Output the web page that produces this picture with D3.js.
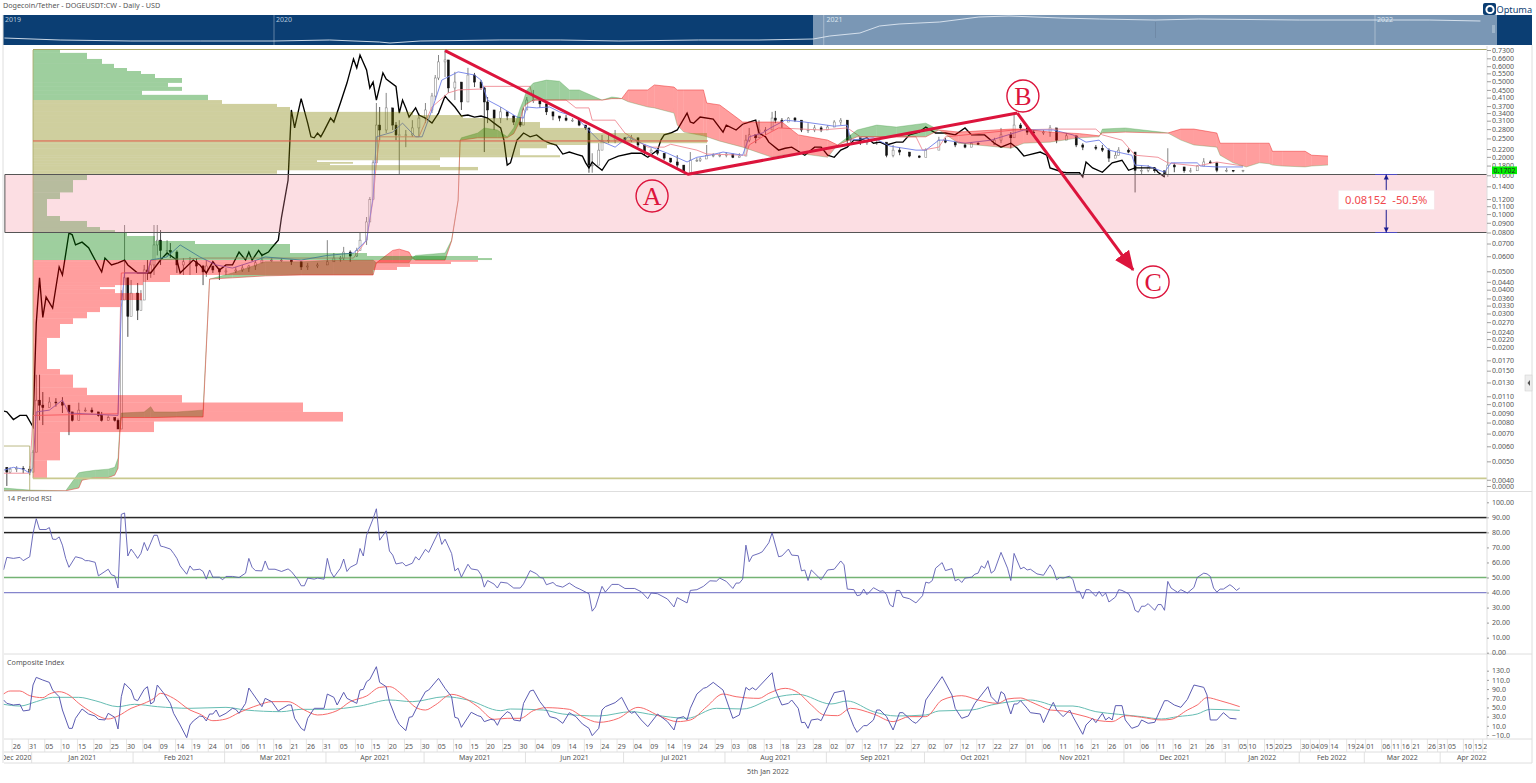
<!DOCTYPE html>
<html><head><meta charset="utf-8">
<script src="https://cdnjs.cloudflare.com/ajax/libs/d3/7.8.5/d3.min.js"></script>
<style>
html,body{margin:0;padding:0;background:#fff;overflow:hidden}
text{font-family:"Noto Sans",sans-serif;fill:#555}
.ax text{font-size:7px;fill:#555}
</style></head><body><svg id="c" width="1536" height="783"></svg>
<script>
// ---------- DATA (days are counted from 31 Dec 2020) ----------
const candleDays=[-8,-7,-5,-3,-1,0,1,2,3,5,7,9,11,12,14,16,18,20,21,23,25,26,27,28,29,30,32,33,34,35,36,37,38,39,41,42,44,46,48,50,
52,53,55,57,59,62,64,66,68,70,73,76,79,82,84,87,90,92,94,95,97,99,100,102,103,104,105,106,108,110,111,112,114,116,118,120,122,123,124,126,
127,129,131,133,135,137,138,139,141,143,145,147,149,150,151,153,155,157,159,161,163,165,167,169,170,171,173,174,176,178,181,183,185,187,189,191,193,195,197,199,
201,203,204,206,208,210,212,214,216,218,219,221,222,224,226,227,229,231,233,235,237,239,241,243,245,247,249,250,253,255,258,261,263,265,268,271,273,
277,279,282,285,287,289,294,296,299,300,302,304,306,309,311,313,316,319,321,325,327,329,331,332,335,337,339,341,343,346,347,349,352,354,356,358,360,362,365,367,370];
const candleHigh=[.00465,.00465,.00472,.00472,.00472,.00573,.01428,.01428,.01158,.01088,.01075,.01088,.0097,.00898,.01018,.0096,.0096,.0091,.0091,.00872,.0085,.0084,.0398,.0876,.045,.045,.0434,.0398,.054,.0573,.0573,.0876,.0876,.0824,.0729,.0704,.0644,.0587,.0595,.0587,
.054,.0573,.052,.052,.052,.0527,.054,.054,.0573,.0624,.0587,.0587,.0573,.054,.0554,.0554,.0729,.0624,.0602,.0672,.0644,.0665,.0795,.0965,.123,.192,.384,.366,.434,.34,.305,.312,.277,.312,.34,.384,.434,.539,.687,.73,
.632,.56,.489,.588,.553,.507,.466,.413,.34,.366,.345,.332,.324,.362,.413,.45,.398,.375,.345,.328,.332,.32,.308,.294,.277,.209,.236,.261,.261,.277,.252,.261,.239,.225,.222,.222,.204,.197,.204,.181,
.212,.197,.199,.231,.209,.209,.212,.204,.209,.261,.284,.261,.312,.287,.345,.349,.32,.324,.324,.301,.301,.294,.29,.294,.312,.32,.312,.261,.252,.245,.245,.231,.231,.225,.209,.204,.222,
.255,.252,.239,.236,.239,.239,.252,.284,.27,.332,.301,.284,.277,.277,.294,.277,.267,.245,.236,.231,.231,.222,.212,.225,.222,.199,.181,.181,.175,.166,.222,.186,.175,.175,.181,.197,.192,.186,.175,.17,.17];
const candleLow=[.00371,.00433,.00439,.00433,.00423,.00439,.00573,.00822,.00776,.0096,.0097,.00898,.00687,.0081,.00872,.0091,.00898,.0086,.0081,.00822,.0081,.0074,.0075,.0353,.0226,.0312,.0277,.0312,.0362,.045,.0462,.0478,.0606,.054,.0595,.0587,.049,.0478,.0478,.049,
.0423,.0467,.049,.045,.0478,.049,.0496,.0496,.0508,.0554,.0561,.0561,.054,.0508,.0508,.052,.054,.0561,.0561,.0573,.0561,.0595,.0644,.0688,.0932,.119,.192,.245,.267,.277,.245,.161,.225,.255,.255,.301,.34,.398,.507,.526,
.434,.398,.353,.45,.466,.45,.212,.301,.277,.301,.312,.294,.287,.294,.353,.384,.362,.332,.312,.308,.308,.305,.29,.277,.165,.165,.186,.231,.236,.236,.236,.239,.225,.204,.209,.204,.192,.186,.175,.165,
.166,.188,.188,.197,.199,.199,.199,.197,.199,.204,.239,.236,.255,.261,.287,.301,.284,.305,.305,.27,.267,.27,.27,.277,.294,.294,.236,.239,.231,.231,.231,.199,.199,.204,.199,.197,.204,
.231,.236,.225,.222,.225,.231,.231,.236,.222,.255,.277,.261,.255,.261,.255,.236,.252,.225,.217,.217,.212,.188,.197,.204,.209,.13,.161,.166,.165,.156,.157,.166,.165,.165,.17,.181,.184,.166,.166,.166,.166];
const candleClose=[.00439,.00455,.0046,.00455,.00439,.00559,.01049,.00988,.0096,.01025,.01018,.00988,.0091,.00822,.0093,.0093,.0091,.00872,.00822,.0085,.00822,.0074,.0353,.0462,.029,.0384,.0312,.0353,.0508,.0496,.054,.0688,.0729,.0644,.0644,.0631,.054,.0561,.0561,.0533,
.0496,.0533,.0508,.0496,.0502,.0508,.052,.0533,.0554,.0573,.0573,.0573,.0561,.0527,.0533,.054,.0561,.0587,.0587,.0631,.0602,.0644,.0729,.0909,.119,.186,.294,.277,.362,.294,.261,.261,.261,.284,.32,.353,.418,.52,.632,.647,
.461,.495,.389,.539,.495,.461,.389,.353,.32,.345,.328,.305,.294,.353,.398,.398,.38,.345,.328,.32,.312,.312,.294,.284,.181,.181,.217,.245,.245,.252,.245,.252,.231,.212,.217,.209,.197,.188,.181,.166,
.192,.192,.195,.204,.204,.204,.207,.199,.202,.245,.261,.252,.277,.277,.32,.312,.305,.32,.312,.277,.277,.284,.277,.287,.305,.312,.245,.252,.239,.239,.239,.204,.217,.212,.202,.199,.217,
.245,.239,.231,.225,.236,.233,.245,.261,.252,.294,.284,.27,.267,.27,.284,.245,.258,.231,.225,.222,.217,.197,.204,.217,.212,.17,.17,.175,.169,.161,.181,.177,.169,.169,.179,.188,.186,.17,.17,.169,.1702];

const chikouDays=[-9,-8,-6,-4,-2,0,1,2,3,4,6,8,9,11,12,13,15,17,19,21,22,24,26,28,29,32,36,39,41,44,45,49,51,53,55,57,59,61,63,65,66,67,69,70,72,73,75,76,78,79,
80,82,84,85,86,87,88,89,91,92,94,96,98,99,100,102,103,104,105,107,108,111,112,113,114,115,117,118,120,122,124,126,127,129,131,133,135,137,139,141,143,144,145,146,148,
149,150,152,154,156,158,160,162,164,166,168,169,170,171,172,174,176,179,183,186,188,191,192,193,195,197,200,201,202,204,208,211,212,215,217,219,221,222,224,225,228,230,232,236,239,241,243,245,247,249,251,253,255,257,259,261,264,266,268,271,273,276,
279,282,285,287,291,294,296,299,301,303,308,310,311,315,316,320,321,322,324,327,330,333,335,337,343,344,346];
const chikouPrice=[.0092,.0091,.0083,.00872,.00872,.0076,.0267,.0462,.0286,.0366,.032,.0527,.0478,.0795,.0778,.0688,.0712,.0665,.0573,.0496,.0587,.054,.0554,.0573,.054,.049,.049,.0573,.0624,.0573,.049,.0573,.054,.049,.0561,.0508,.054,.054,.0631,.0573,.0631,.0573,.0644,.0606,.0631,.0665,.0729,.0965,.151,.353,
.284,.405,.301,.255,.252,.267,.255,.274,.32,.305,.384,.489,.655,.588,.687,.573,.461,.495,.398,.553,.514,.47,.34,.398,.362,.324,.362,.332,.32,.301,.34,.418,.398,.366,.328,.332,.324,.328,.32,.301,.284,.245,.181,.186,.245,
.255,.267,.255,.261,.245,.236,.231,.207,.212,.207,.202,.186,.175,.188,.181,.17,.192,.202,.209,.209,.199,.217,.245,.261,.267,.277,.34,.305,.301,.324,.316,.27,.294,.277,.297,.305,.312,.267,.255,.239,.217,.222,.225,.204,.225,.225,.204,.199,.217,.225,.245,.245,.252,.236,.239,.231,.239,.239,.261,.27,.287,.267,
.267,.261,.284,.261,.261,.236,.225,.236,.222,.202,.212,.204,.175,.166,.165,.165,.157,.188,.175,.166,.186,.192,.17,.175,.175,.166,.157];

const kijunDays=[-9,-1,0,26,27,35,36,53,98,102,104,105,106,118,122,127,130,137,138,152,153,163,166,170,171,178,181,188,193,195,203,206,218,219,224,228,241,249,253,270,272,277,279,285,300,312,325,327,333,337,344,347,356,362,370];
const kijunPrice=[.00433,.00433,.00872,.0089,.049,.049,.0573,.0587,.0587,.0729,.119,.186,.255,.255,.366,.434,.45,.455,.47,.47,.398,.398,.362,.362,.312,.312,.267,.225,.225,.233,.217,.207,.204,.231,.261,.284,.277,.284,.255,.255,.217,.225,.255,.261,.277,.28,.28,.261,.245,.204,.199,.186,.179,.188,.179];

const tenkanDays=[-9,-6,-3,-1,0,1,5,9,11,26,27,28,35,36,41,45,51,56,61,67,71,82,90,98,100,102,104,105,110,113,117,119,122,125,130,135,137,139,143,148,150,151,154,158,161,166,169,173,178,182,186,190,194,200,203,207,211,217,219,223,226,230,236,245,249,250,257,262,270,273,277,279,285,293,300,303,312,318,322,326,329,336,337,341,346,348,356,357,362,370];
const tenkanPrice=[.00449,.00465,.00455,.00433,.00465,.0091,.0093,.0105,.00898,.00872,.0324,.049,.049,.0573,.0595,.0688,.0595,.054,.052,.0561,.0595,.0573,.0606,.0624,.0672,.0729,.123,.255,.27,.301,.255,.255,.353,.507,.56,.539,.507,.398,.366,.324,.32,.366,.362,.366,.345,.324,.287,.245,.225,.255,.236,.222,.209,.188,.199,.204,.212,.204,.255,.267,.287,.312,.305,.29,.294,.245,.252,.228,.217,.217,.245,.245,.236,.245,.267,.277,.277,.261,.239,.245,.217,.204,.181,.179,.166,.186,.186,.179,.177,.177];

const cloudDays=[-9,-1,10,14,15,19,23,25,26,26.5,27,34,36,37,44,52,54,61,71,82,92,104,105,110,112,115,116,117,126,128,130,130.6,131,136,138,142,145,147,148,149,150,151,153,157,161,164,167,174,177,179,
180,182,188,190,196,197,199,205,206,210,217,226,229,234,243,246,252,258,264,273,277,283,299,303,311,320,326,327,334,345,347,351,355,362,363,367,371,375,378,379,382,389,391,396];
const spanA=[.00362,.00353,.0035,.00435,.00439,.00449,.00455,.00465,.0052,.0073,.00898,.0091,.0097,.0091,.0091,.0093,.0455,.049,.0561,.0561,.0573,.0573,.0554,.0554,.0554,.0554,.0587,.0606,.0624,.073,.119,.245,.252,.267,.284,.277,.255,.284,.32,.362,.398,.45,.489,.507,.5,.45,.45,.398,.413,.409,
.405,.39,.366,.362,.34,.294,.27,.258,.255,.242,.225,.199,.204,.209,.199,.231,.277,.294,.287,.301,.277,.236,.222,.236,.239,.252,.255,.28,.284,.27,.267,.245,.231,.225,.204,.186,.177,.186,.184,.181,.179,.177,.179,.181];
const spanB=[.00349,.00349,.0035,.00362,.00398,.00411,.00411,.00423,.0046,.0068,.0085,.0085,.0085,.0085,.00856,.00856,.0455,.0462,.0473,.0478,.0478,.0478,.0554,.0644,.0654,.0631,.0587,.0573,.0573,.0722,.118,.243,.245,.252,.252,.252,.252,.265,.287,.312,.366,.38,.398,.398,.398,.398,.398,.398,.405,.405,
.405,.45,.45,.478,.466,.45,.45,.45,.384,.375,.305,.305,.305,.261,.245,.231,.255,.255,.255,.255,.277,.27,.28,.28,.27,.265,.258,.267,.27,.267,.267,.28,.28,.267,.236,.236,.236,.236,.236,.214,.214,.214,.204,.202];

const profileEdges=[.73,.705,.655,.617,.587,.566,.546,.52,.49,.467,.445,.424,.398,.38,.366,.345,.332,.32,.305,.284,.267,.236,.231,.222,.204,.199,.192,.188,.184,.181,.177,.17,.163,.161,
.151,.13,.12,.0977,.092,.0855,.0824,.0805,.0767,.0722,.0696,.0624,.0602,.0587,.0573,.0561,.0546,.0527,.0508,.0478,.0439,.0423,.0413,.0403,.0384,.0353,.0324,.0305,.0283,.0264,.0223,.0153,.0143,.0122,.01116,.0102,.0091,.0081,.00713,.00506,.00408];
const profileVolume=[27,54,69,81,94,108,122,149,135,149,109,175,189,244,257,380,430,487,507,554,674,554,514,487,527,407,284,320,297,407,445,244,177,
54,40,27,14,27,54,67,82,94,122,162,257,334,445,459,445,418,377,364,340,137,110,82,67,82,109,87,67,54,40,27,14,27,40,54,149,270,310,121,27,14];
const profileZoneEnds=[12,33,48,74]; // bins per colour block: green, olive, green, red

const rsiDays=[-9,-8,-6,-4,-3,-1,0,1,2,4,5,6,7,8,9,10,11,13,15,16,17,19,20,22,23,24,25,26,27,28,29,30,31,32,33,34,35,37,38,39,40,42,43,44,45,47,48,49,51,52,53,54,55,57,58,59,61,63,65,66,67,68,70,71,72,74,76,78,79,81,82,83,84,86,87,89,90,91,92,94,95,96,97,99,100,101,102,104,105,106,108,109,110,111,113,114,116,117,118,120,121,124,125,126,128,129,130,131,133,134,136,137,138,139,141,142,143,145,147,
149,150,152,154,155,156,157,159,160,162,164,166,167,170,171,172,174,175,177,179,181,184,186,188,189,191,194,196,197,200,201,203,205,207,209,210,212,214,215,216,217,218,219,220,222,223,225,226,228,229,231,232,234,235,236,237,238,241,243,245,247,248,249,251,252,253,254,255,257,259,260,261,262,263,264,265,266,268,270,272,273,274,275,276,278,279,281,282,283,284,285,287,288,289,290,291,292,293,294,296,298,299,300,302,303,304,305,
307,309,311,312,313,314,315,317,318,319,320,321,322,323,325,326,327,328,329,331,332,333,335,336,337,338,339,340,341,343,344,345,346,347,348,350,351,353,355,356,358,359,360,361,362,363,364,366,367,368,369];
const rsiValues=[55.1,63.4,62.7,63.4,61.2,63.8,79.2,89.1,81.9,81.9,83.2,75.5,75.3,77,71.5,62.7,56.8,63.8,62.7,61.2,61.2,60.1,51.1,54,55.5,51.8,51.1,43,92,92.9,64.3,68.9,66,62.7,66,73.3,67.8,78.1,78.1,70.9,70.4,68.9,66,62.7,57.7,52.2,57.7,55,55.5,54,48.9,55,50.2,50.2,48.5,50.7,50.7,50,52.9,62.7,56.8,54.6,54.4,61,55.5,55.5,54,55.7,54,48.5,44.5,44.5,49.6,48.9,49.6,48.9,62.7,54,50.2,56.2,62.3,54,56.8,59,69.3,64.3,78.1,89.1,95.7,74.8,81,67.6,64.9,59,59.9,57.7,59.5,63.8,61.6,68.7,66.7,80.3,72,75.5,66,54.4,56.2,50.2,58.8,55.7,55,51.8,43.6,48,45.6,43,46.9,46.3,43,
43,45.8,54.6,52.4,50,49.6,45.2,46.7,44.7,43.6,46.3,43.4,42.5,39.2,27.6,30.4,44.1,40.3,45.4,45.4,42.7,42.7,40.5,35.9,39.7,39.2,35.7,30.4,36.6,33.1,41.4,41.9,44.1,47.8,47.6,49.6,47.4,42.7,46.3,46.3,48.9,71.5,60.5,64.5,66,67.1,73.1,79.7,63.8,64.3,68.9,64.9,64.5,54.4,55,48,55,48.5,55,55.5,61,58.4,42.3,41.9,37.9,38.4,42.3,38.6,43.2,40.8,41.2,38.6,32,30.4,41.4,41.4,37,35.9,33.1,37.9,46.9,46.3,48,56.2,59.9,54.6,55.9,47.8,48.9,46.7,49.6,50.2,52.2,52.9,57.7,56.2,61.2,52.9,54.6,66.7,56.2,48,66,55.7,56.8,55,55.5,
52.4,51.5,58.4,55,48.5,50,49.6,50.9,48.5,40.8,40.8,35.9,41.9,41.9,37.5,40.8,37.5,39.7,33.7,37,41.9,41.4,39.2,35.3,28.2,26.9,30.9,30.9,32.6,28.2,32,32,28.2,47.4,43,40.1,41.9,39.7,43.4,50,52.9,52.4,50.7,43,40.3,42.3,42.3,45.2,43.6,41.4,43];

const compDays=[-9,-8,-6,-4,-3,-1,0,1,3,5,6,8,9,11,12,13,15,17,19,20,22,23,25,26,27,28,30,31,32,34,35,36,37,38,40,42,43,45,47,48,49,51,52,53,54,55,56,57,59,61,62,63,65,66,67,70,71,73,75,78,79,80,82,83,84,86,89,90,92,93,95,96,97,99,100,101,102,103,105,106,108,109,111,112,114,115,116,118,120,121,124,126,128,129,130,131,134,136,137,138,140,141,142,143,145,146,147,149,
150,152,153,155,157,158,160,162,164,166,168,170,171,173,174,175,178,180,182,183,184,186,188,191,194,196,197,199,200,201,203,205,206,208,211,214,216,218,219,220,221,226,227,229,231,232,234,235,236,237,238,240,241,243,245,248,249,251,252,254,255,257,258,259,261,263,265,266,269,270,272,273,278,281,282,284,286,288,292,293,295,296,297,299,300,301,302,304,
305,308,309,311,312,313,315,317,318,321,322,324,325,327,328,329,330,331,333,334,336,338,339,341,343,344,346,347,349,351,353,355,358,359,360,362,364,366,368,369];
const compValues=[66.2,58.9,55.3,56.8,42.3,44.4,98.8,115.5,109.7,104.6,87.9,73.4,44.4,4.5,4.5,26.3,46.6,35.7,31.4,24.1,22.7,37.2,28.5,3.1,73.4,102.4,87.9,67.6,64.7,89.4,95.2,57.5,62.6,98.8,80.7,58.9,37.2,11.8,-15.8,11.8,20.5,31.4,30,20.5,35.7,35.7,44.4,30,37.2,48.1,45.9,37.2,58.9,92.3,82.1,51.7,69.8,62.6,42.3,55.3,55.3,26.3,4.5,-.5,26.3,48.1,48.1,79.2,72,55.3,82.9,69.8,66.2,58.9,87.9,89.4,106.1,111.1,138.7,104.6,95.2,62.6,26.3,13.2,-.5,28.5,30,58.9,84.3,87.9,113.3,91.6,73.4,28.5,26.3,6.7,39.4,32.1,30,19.1,24.1,22.7,11.1,26.3,40.8,37.2,22.7,20.5,
58.9,85.8,87.9,62.6,44.4,30,26.3,15.4,38.6,30,14,4.5,-11.4,4.5,44.4,51.7,60.4,72,44.4,37.2,40.8,22.7,8.2,35.7,19.1,.9,26.3,30,22.7,48.1,79.2,91.6,93.7,104.6,87.9,26.3,33.6,93.7,87.9,93,87.9,125.6,87.9,55.3,58.9,66.2,48.1,16.9,17.6,4.5,22.7,24.9,21.2,51.7,82.1,86.5,44.4,8.2,-4.2,10.4,10.4,22.7,44.4,44.4,30,.9,38.6,38.6,19.1,15.4,30,66.2,117,77.1,48.1,26.3,31.4,58.9,95.2,73.4,58.9,84.3,79.2,35.7,57.5,57.5,64.7,48.1,
38.6,35.7,16.9,48.1,61.1,44.4,30,44.4,30,-8.5,11.8,26.3,16.9,37.2,22.7,28.5,22.7,53.9,53.9,22.7,4.5,9.6,22.7,15.4,17.6,33.6,64.7,64.7,55.3,50.2,67.6,98.8,93.7,77.1,22.7,22.7,38.6,26.3,24.9];

const fastDays=[-9,-7,-4,-1,3,5,8,11,14,18,23,26,30,34,37,39,43,48,51,55,59,63,69,73,78,83,87,93,97,102,106,109,113,117,120,123,128,131,136,141,145,149,153,157,164,168,173,179,185,192,197,201,206,211,215,222,225,230,234,238,242,246,250,257,263,268,273,278,284,289,295,298,302,305,308,311,315,318,322,326,330,334,339,345,348,353,356,359,363,369];
const fastValues=[79.2,85.8,85.8,75.6,71.3,79.2,84.3,77.1,58.9,39.4,24.9,31.4,48.1,58.9,69.8,80.7,69.8,44.4,35.7,21.2,24.9,38.6,55.3,62.6,62.6,44.4,33.6,43,62.6,74.9,93.7,95.2,77.1,50.2,44.4,55.3,78.5,73.4,51.7,24.1,26.3,26.3,43,49.5,45.9,30,17.6,26.3,50.2,30,19.1,22.7,51.7,79.2,73.4,69.8,80.7,91.6,82.1,55.3,33.6,32.1,48.1,35.7,19.1,30,30,66.2,75.6,66.2,58.9,68.4,70.6,62.6,53.1,44.4,42.3,37.2,30,21.2,19.1,32.1,28.5,22.7,24.1,44.4,55.3,71.3,64.7,51.7];
const slowDays=[-9,-4,1,6,14,19,26,31,38,48,59,65,76,82,90,100,109,116,126,133,143,146,156,162,173,183,190,200,209,217,227,234,244,249,257,264,273,277,287,293,299,305,308,313,318,325,332,339,345,350,356,360,369];
const slowValues=[56.8,53.1,62.6,72,72,64.7,51.7,56.8,51.7,48.1,50.2,44.4,40.8,45.9,45.9,53.1,66.2,62.6,73.4,66.2,43,46.6,44.4,35.7,31.4,40.8,33.6,26.3,48.1,46.6,72,78.5,57.5,64,40.8,31.4,33.6,42.3,44.4,55.3,62.6,66.2,62.6,53.1,53.1,40.8,35,30,24.9,30,35.7,45.9,43.7];

const navDays=[-179,-142,-95,-49,0,37,70,77,97,150,190,229,282,322,358,369,389,402,415,442,468,488,522,548,585,614,681,731,767,801];
const navLevel=[7,5,4,4,4,5,3,2,4,5,5,4,5,5,6,9,12,19,21,23,28,29,27,26,25,26,25,25,25,24];
const navYears=["2019","2020","2021","2022"];

const priceTicks=[.73,.66,.6,.55,.5,.45,.41,.37,.34,.31,.28,.25,.22,.2,.18,.16,.14,.12,.11,.1,.09,.08,.07,.06,.05,.044,.04,.036,.033,.03,.027,.024,.022,.02,.017,.015,.013,.011,.01,.009,.008,.007,.006,.005,.004,.00371];
const priceLabels=["0.7300","0.6600","0.6000","0.5500","0.5000","0.4500","0.4100","0.3700","0.3400","0.3100","0.2800","0.2500","0.2200","0.2000","0.1800","0.1600","0.1400","0.1200","0.1100","0.1000","0.0900","0.0800","0.0700","0.0600","0.0500","0.0440","0.0400","0.0360","0.0330","0.0300","0.0270","0.0240","0.0220","0.0200","0.0170","0.0150","0.0130","0.0110","0.0100","0.0090","0.0080","0.0070","0.0060","0.0050","0.0040","0.0000"];
const rsiTicks=[100,90,80,70,60,50,40,30,20,10,0];
const compTicks=[130,110,90,70,50,30,10,-10];

const futureTickDays=[372.8,378,381,383.8,389,392,394.8,397.9,403.1,405.8,408.9,413.8,416.8,419.8,423,427.8,430.9,433.9,438.8,441.9,444.7];
const futureTickLabels=["10","15","20","25","30","04","09","14","19","24","01","06","11","16","21","26","31","05","10","15","20"];
const monthStarts=[-8.4,1,32,60,91,121,152,182,213,244,274,305,335,366,388.6,408.5,431.7,451];
const monthLabels=["Dec 2020","Jan 2021","Feb 2021","Mar 2021","Apr 2021","May 2021","Jun 2021","Jul 2021","Aug 2021","Sep 2021","Oct 2021","Nov 2021","Dec 2021","Jan 2022","Feb 2022","Mar 2022","Apr 2022"];

const abcDays=[126,200.3,301,336.4];
const abcPrice=[.725,.162,.34,.0508];
const waveLabels=["A","B","C"];
const waveDays=[189.3,302.7,342.5];
const wavePrice=[.1245,.418,.0439];
const zoneTop=.16152, zoneBottom=.08;
const lastPrice=.1702, pocPrice=.2425, baseLine=.00407;

// ---------- SCALES ----------
const W=1536,plotL=4,plotR=1487,T=50;
const svg=d3.select("#c");
const x=d3.scaleLinear().domain([0,370]).range([33,1243]);
const y=d3.scaleLog().domain([.08,.73]).range([232.5,50]);
const yR=d3.scaleLinear().domain([0,100]).range([652.7,502.3]);
const yC=d3.scaleLinear().domain([-10,130]).range([735,670.7]);
const volX=d3.scaleLinear().domain([0,1000]).range([x(0),x(0)+1000]);
const navX=d3.scaleLinear().domain([0,731]).range([274,1375]);
const navY=d3.scaleLinear().domain([0,30]).range([45,15]);
const date0=Date.UTC(2020,11,31),fmtDay=d3.utcFormat("%d");
const dateOf=d=>new Date(date0+d*864e5);

const defs=svg.append("defs");
const clip=(id,x0,y0,w,h)=>defs.append("clipPath").attr("id",id).append("rect").attr("x",x0).attr("y",y0).attr("width",w).attr("height",h);
clip("cMain",plotL,46,plotR-plotL,445.5);
clip("cStrip",plotL,739,plotR-plotL,25);
defs.append("marker").attr("id","arrC").attr("markerUnits","userSpaceOnUse").attr("markerWidth",20).attr("markerHeight",20)
  .attr("refX",15).attr("refY",8).attr("orient","auto").attr("viewBox","0 0 16 16")
  .append("path").attr("d","M0,1L16,8L0,15Z").attr("fill","#dc143c");

// ---------- NAVIGATOR ----------
const nav=svg.append("g");
nav.append("rect").attr("x",3).attr("y",15).attr("width",1529).attr("height",30).attr("fill","#0b3e73");
nav.append("rect").attr("x",813).attr("y",15).attr("width",684).attr("height",30).attr("fill","#7a97b5");
[0,365,731].forEach(d=>nav.append("line").attr("x1",navX(d)).attr("x2",navX(d)).attr("y1",15).attr("y2",45).attr("stroke","#fff").attr("stroke-opacity",.35));
nav.append("path").datum(navDays.map((d,i)=>[d,navLevel[i]])).attr("fill","none").attr("stroke","#dfe8f2").attr("stroke-width",.9)
  .attr("d",d3.line().x(d=>navX(d[0])).y(d=>navY(d[1])));
nav.selectAll("text").data(navYears).join("text").attr("x",(d,i)=>i==0?5:navX((i-1)*365.5)+2).attr("y",22).attr("font-size",7).style("fill",(d,i)=>i<2?"#b6c8dc":"#dbe5ef").text(d=>d);
nav.append("rect").attr("x",1492).attr("y",25).attr("width",3).attr("height",8).attr("fill","#9db4ca");
nav.append("rect").attr("x",1155).attr("y",22).attr("width",1).attr("height",16).attr("fill","#6f89a6");

svg.append("text").attr("x",3).attr("y",8).attr("font-size",7.2).text("Dogecoin/Tether - DOGEUSDT:CW - Daily - USD");

// logo
svg.append("rect").attr("x",1483).attr("y",3).attr("width",13).attr("height",12).attr("rx",2).attr("fill","#0b3e73");
svg.append("circle").attr("cx",1490).attr("cy",9.5).attr("r",3.6).attr("fill","none").attr("stroke","#fff").attr("stroke-width",2);
svg.append("text").attr("x",1496.5).attr("y",12.5).attr("font-size",9.2).style("fill","#0b3e73").text("Optuma");

// ---------- MAIN PANEL ----------
const main=svg.append("g").attr("clip-path","url(#cMain)");

// candles
const cand=main.append("g");
candleDays.forEach((d,i)=>{
  const c=candleClose[i],o=i?candleClose[i-1]:candleHigh[i],up=c>=o;
  cand.append("line").attr("x1",x(d)).attr("x2",x(d)).attr("y1",y(candleHigh[i])).attr("y2",y(candleLow[i])).attr("stroke",up?"#666":"#222").attr("stroke-width",.8);
  const a=y(Math.max(o,c)),b=y(Math.min(o,c));
  cand.append("rect").attr("x",x(d)-1).attr("width",2).attr("y",a).attr("height",Math.max(.8,b-a))
    .attr("fill",up?"#fff":"#111").attr("stroke",up?"#777":"#111").attr("stroke-width",.5);
});

// ichimoku lines
const ln=d3.line().x(d=>x(d[0])).y(d=>y(d[1]));
main.append("path").datum(chikouDays.map((d,i)=>[d,chikouPrice[i]])).attr("fill","none").attr("stroke","#000").attr("stroke-width",1.35).attr("d",ln);
main.append("path").datum(kijunDays.map((d,i)=>[d,kijunPrice[i]])).attr("fill","none").attr("stroke","#ef8a94").attr("stroke-width",.9).attr("d",ln);
main.append("path").datum(tenkanDays.map((d,i)=>[d,tenkanPrice[i]])).attr("fill","none").attr("stroke","#6f7fe8").attr("stroke-width",.9).attr("d",ln);

// cloud
const area=d3.area().x(d=>x(d.d)).y0(d=>y(d.a)).y1(d=>y(d.b));
const cloud=cloudDays.map((d,i)=>({d,a:spanA[i],b:spanB[i]}));
for(let i=0;i<cloud.length-1;i++){
  const s=[cloud[i],cloud[i+1]],g=(s[0].a+s[1].a)>=(s[0].b+s[1].b);
  main.append("path").datum(s).attr("d",area).attr("fill",g?"rgba(0,128,0,.38)":"rgba(255,0,0,.38)");
}
main.append("path").datum(cloud).attr("fill","none").attr("stroke","#3f9a3f").attr("stroke-opacity",.5).attr("stroke-width",.6).attr("d",d3.line().x(d=>x(d.d)).y(d=>y(d.a)));
main.append("path").datum(cloud).attr("fill","none").attr("stroke","#e33").attr("stroke-opacity",.75).attr("stroke-width",.7).attr("d",d3.line().x(d=>x(d.d)).y(d=>y(d.b)));

// volume profile
const zoneFill=["rgba(0,128,0,.38)","rgba(128,128,0,.38)","rgba(0,128,0,.38)","rgba(255,0,0,.38)"];
profileVolume.forEach((v,i)=>{
  const z=profileZoneEnds.findIndex(e=>i<e);
  main.append("rect").attr("x",volX(0)).attr("width",volX(v)-volX(0)).attr("y",y(profileEdges[i])).attr("height",y(profileEdges[i+1])-y(profileEdges[i])).attr("fill",zoneFill[z]);
});
main.append("line").attr("x1",x(0)).attr("x2",plotR).attr("y1",y(.73)-.5).attr("y2",y(.73)-.5).attr("stroke","#a9a766").attr("stroke-width",1);
main.append("line").attr("x1",x(0)).attr("x2",x(0)).attr("y1",y(.73)).attr("y2",y(baseLine)).attr("stroke","#a9a766").attr("stroke-width",.8);
main.append("line").attr("x1",x(0)).attr("x2",plotR).attr("y1",y(baseLine)).attr("y2",y(baseLine)).attr("stroke","#c9c98f").attr("stroke-width",1.6);
main.append("line").attr("x1",x(0)).attr("x2",x(206.4)).attr("y1",y(pocPrice)).attr("y2",y(pocPrice)).attr("stroke","#e2584a").attr("stroke-width",1);
// small box, lower left
main.append("path").attr("d",`M${plotL},${y(.00602)}H${x(-1)}V491`).attr("fill","none").attr("stroke","#a9a766").attr("stroke-width",.8);

// target zone
main.append("rect").attr("x",x(-8.6)).attr("width",plotR-x(-8.6)).attr("y",y(zoneTop)).attr("height",y(zoneBottom)-y(zoneTop))
  .attr("fill","rgba(243,140,160,.29)").attr("stroke","none");
[zoneTop,zoneBottom].forEach(p=>main.append("line").attr("x1",x(-8.6)).attr("x2",plotR).attr("y1",y(p)).attr("y2",y(p)).attr("stroke","#555").attr("stroke-width",1));
main.append("line").attr("x1",x(-8.6)).attr("x2",x(-8.6)).attr("y1",y(zoneTop)).attr("y2",y(zoneBottom)).attr("stroke","#555").attr("stroke-width",1);

// measure
const mx=x(413.8);
[zoneTop,zoneBottom].forEach(p=>main.append("line").attr("x1",mx-11).attr("x2",mx+11).attr("y1",y(p)).attr("y2",y(p)).attr("stroke","#4a4ae0").attr("stroke-width",.8));
main.append("line").attr("x1",mx).attr("x2",mx).attr("y1",y(zoneTop)).attr("y2",y(zoneBottom)).attr("stroke","#1c1c90").attr("stroke-width",1);
main.append("path").attr("d",`M${mx},${y(zoneTop)}l-2.5,5h5Z`).attr("fill","#1c1c90");
main.append("path").attr("d",`M${mx},${y(zoneBottom)}l-2.5,-5h5Z`).attr("fill","#1c1c90");
main.append("rect").attr("x",mx-48).attr("y",y(.119)-9.5).attr("width",96).attr("height",19.5).attr("fill","#fff").attr("stroke","#f2e6e8").attr("stroke-width",.6);
main.append("text").attr("x",mx).attr("y",y(.119)+4).attr("text-anchor","middle").attr("font-size",11.2).attr("xml:space","preserve").style("fill","#f0494e").text("0.08152  -50.5%");

// ABC wave
const abc=abcDays.map((d,i)=>[d,abcPrice[i]]);
main.append("path").datum(abc.slice(0,3)).attr("fill","none").attr("stroke","#dc143c").attr("stroke-width",3).attr("stroke-linejoin","round").attr("d",ln);
main.append("path").datum(abc.slice(2)).attr("fill","none").attr("stroke","#dc143c").attr("stroke-width",3).attr("marker-end","url(#arrC)").attr("d",ln);
const wg=main.selectAll(".w").data(waveLabels).join("g").attr("transform",(d,i)=>`translate(${x(waveDays[i])},${y(wavePrice[i])})`);
wg.append("circle").attr("r",16).attr("fill","none").attr("stroke","#dc143c").attr("stroke-width",1.4);
wg.append("text").attr("text-anchor","middle").attr("y",9).attr("font-size",26).style("font-family","'Liberation Serif',serif").style("fill","#dc143c").text(d=>d);

// ---------- RSI / COMPOSITE ----------
const rl=d3.line().x(d=>x(d[0])).y(d=>yR(d[1]));
[[90,"#000"],[80,"#000"]].forEach(([v,c])=>{
  svg.append("line").attr("x1",plotL).attr("x2",plotR).attr("y1",yR(v)+1).attr("y2",yR(v)+1).attr("stroke","#aaa").attr("stroke-width",1);
  svg.append("line").attr("x1",plotL).attr("x2",plotR).attr("y1",yR(v)).attr("y2",yR(v)).attr("stroke",c).attr("stroke-width",1);
});
svg.append("line").attr("x1",plotL).attr("x2",plotR).attr("y1",yR(50)).attr("y2",yR(50)).attr("stroke","#74b374").attr("stroke-width",1.3);
svg.append("line").attr("x1",plotL).attr("x2",plotR).attr("y1",yR(40)).attr("y2",yR(40)).attr("stroke","#8585cc").attr("stroke-width",1.3);
svg.append("path").datum(rsiDays.map((d,i)=>[d,rsiValues[i]])).attr("fill","none").attr("stroke","#5c5cb2").attr("stroke-width",.9).attr("d",rl);

const cl=d3.line().x(d=>x(d[0])).y(d=>yC(d[1]));
const smooth=d3.line().x(d=>x(d[0])).y(d=>yC(d[1])).curve(d3.curveMonotoneX);
svg.append("path").datum(slowDays.map((d,i)=>[d,slowValues[i]])).attr("fill","none").attr("stroke","#66bdb3").attr("stroke-width",1).attr("d",smooth);
svg.append("path").datum(fastDays.map((d,i)=>[d,fastValues[i]])).attr("fill","none").attr("stroke","#f76a6a").attr("stroke-width",1).attr("d",smooth);
svg.append("path").datum(compDays.map((d,i)=>[d,compValues[i]])).attr("fill","none").attr("stroke","#5c5cb2").attr("stroke-width",1).attr("d",cl);

svg.append("text").attr("x",7).attr("y",501).attr("font-size",7.2).text("14 Period RSI");
svg.append("text").attr("x",7).attr("y",665).attr("font-size",7.2).text("Composite Index");

// ---------- FRAME ----------
const fr="#dedede";
[[491.5,plotL,1532],[654,plotL,1532],[739,plotL,1532],[752,plotL,plotR],[763,plotL,1532]].forEach(([yy,a,b])=>
  svg.append("line").attr("x1",a).attr("x2",b).attr("y1",yy).attr("y2",yy).attr("stroke",fr).attr("stroke-width",1));
[[3,15,763],[plotR,46,739],[1532,45,763]].forEach(([xx,a,b])=>
  svg.append("line").attr("x1",xx).attr("x2",xx).attr("y1",a).attr("y2",b).attr("stroke",fr).attr("stroke-width",1));

// ---------- AXES ----------
const axisP=d3.axisRight(y).tickValues(priceTicks).tickFormat((d,i)=>priceLabels[i]).tickSize(4).tickPadding(1);
const gP=svg.append("g").attr("class","ax").attr("transform",`translate(${plotR},0)`).call(axisP);
const axisR=d3.axisRight(yR).tickValues(rsiTicks).tickFormat(d3.format(".2f")).tickSize(2).tickPadding(3);
const gR=svg.append("g").attr("class","ax").attr("transform",`translate(${plotR},0)`).call(axisR);
const axisC=d3.axisRight(yC).tickValues(compTicks).tickFormat(d3.format(".1f")).tickSize(2).tickPadding(3);
const gC=svg.append("g").attr("class","ax").attr("transform",`translate(${plotR},0)`).call(axisC);
[gP,gR,gC].forEach(g=>{g.select(".domain").remove();g.selectAll("line").attr("stroke","#777").attr("stroke-width",.7);});

// last price flag
svg.append("rect").attr("x",1492).attr("y",y(lastPrice)-3.7).attr("width",25).attr("height",7.6).attr("fill","#00f000");
svg.append("text").attr("x",1504.5).attr("y",y(lastPrice)+2.5).attr("text-anchor","middle").attr("font-size",7).style("fill","#222").text(d3.format(".4f")(lastPrice));

// date strip
const strip=svg.append("g").attr("clip-path","url(#cStrip)");
const pastTicks=d3.range(-5,371,5);
const dayTicks=pastTicks.map(d=>({d,t:fmtDay(dateOf(d))})).concat(futureTickDays.map((d,i)=>({d,t:futureTickLabels[i]})));
strip.selectAll(".dt").data(dayTicks).join("text").attr("x",d=>x(d.d)).attr("y",748.5).attr("text-anchor","middle").attr("font-size",7).text(d=>d.t);
strip.selectAll(".ds").data(dayTicks).join("line").attr("x1",d=>x(d.d)-4.6).attr("x2",d=>x(d.d)-4.6).attr("y1",739).attr("y2",752).attr("stroke",fr).attr("stroke-width",.8);
monthStarts.forEach((m,i)=>{
  strip.append("line").attr("x1",x(m)-4.6).attr("x2",x(m)-4.6).attr("y1",752).attr("y2",763).attr("stroke",fr).attr("stroke-width",.9);
  if(i<monthLabels.length) strip.append("text").attr("x",(x(m)+x(monthStarts[i+1]))/2-4.6).attr("y",760).attr("text-anchor","middle").attr("font-size",7).text(monthLabels[i]);
});
svg.append("text").attr("x",768).attr("y",774).attr("text-anchor","middle").attr("font-size",7.2).text("5th Jan 2022");

// right side collapse tab
svg.append("rect").attr("x",1525).attr("y",375).attr("width",7).attr("height",16).attr("fill","#eee").attr("stroke","#ccc").attr("stroke-width",.5);
svg.append("path").attr("d","M1530,380l-2.5,3l2.5,3Z").attr("fill","#555");
</script></body></html>
